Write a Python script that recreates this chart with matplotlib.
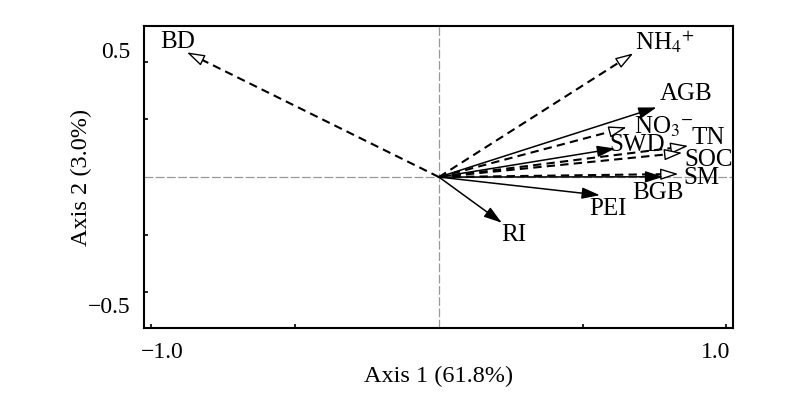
import numpy as np
import matplotlib
matplotlib.use("Agg")
import matplotlib.pyplot as plt

plt.rcParams['font.family'] = ['Liberation Serif', 'DejaVu Serif']
plt.rcParams['mathtext.fontset'] = 'stix'

# biplot arrow end points (axis 1, axis 2)
names = ['BD', 'NH$_4$$^{+}$', 'AGB', 'NO$_3$$^{-}$', 'SWD', 'TN', 'SOC', 'SM', 'BGB', 'PEI', 'RI']
ax1 = [-0.912, 0.703, 0.787, 0.679, 0.637, 0.902, 0.880, 0.866, 0.811, 0.582, 0.227]
ax2 = [0.489, 0.485, 0.273, 0.195, 0.112, 0.122, 0.095, 0.012, 0.001, -0.071, -0.179]
# dashed = soil variables (open heads), solid = plant variables (filled heads)
dashed = [True, True, False, True, False, True, True, True, False, False, False]
# label anchor points
lab_x = [-0.944, 0.817, 0.893, 0.814, 0.716, 0.973, 0.976, 0.948, 0.792, 0.611, 0.271]
lab_y = [0.529, 0.530, 0.325, 0.196, 0.125, 0.153, 0.067, -0.004, -0.063, -0.125, -0.227]

fig = plt.figure(figsize=(8, 4.04), dpi=100)
ax = fig.add_axes([0.18, 0.188, 0.736, 0.7475])
ax.set_xlim(-1.067, 1.063)
ax.set_ylim(-0.592, 0.592)

# reference lines through origin
ax.axhline(0, color='#999999', lw=0.9, ls=(0, (7, 2)), zorder=1)
ax.axvline(0, color='#999999', lw=0.9, ls=(0, (7, 2)), zorder=1)

for i in range(len(names)):
    x, y = ax1[i], ax2[i]
    if dashed[i]:
        ax.plot([0, x * 0.97], [0, y * 0.97], color='k', lw=1.5, ls=(0, (4, 2.5)), zorder=3)
        fc = 'white'
    else:
        ax.plot([0, x * 0.97], [0, y * 0.97], color='k', lw=1.1, zorder=3)
        fc = 'black'
    ax.annotate('', xy=(x, y), xytext=(x * 0.95, y * 0.95),
                arrowprops=dict(arrowstyle='-|>,head_length=1.1,head_width=0.35',
                                fc=fc, ec='k', lw=1.0, mutation_scale=10,
                                shrinkA=0, shrinkB=0), zorder=4)
    ax.text(lab_x[i], lab_y[i], names[i], fontsize=18, ha='center', va='center', zorder=5)

for s in ax.spines.values():
    s.set_linewidth(1.5)

ax.set_xticks([-1.0, 1.0])
ax.set_xticklabels(['\u22121.0', '1.0'])
ax.set_yticks([-0.5, 0.5])
ax.set_yticklabels(['\u22120.5', '0.5'])
ax.tick_params(axis='both', which='major', length=0, labelsize=17, pad=10)
ax.set_xticks([-1.04, -0.52, 0.52, 1.04], minor=True)
ax.set_yticks([-0.45, -0.227, 0.227, 0.45], minor=True)
ax.tick_params(axis='both', which='minor', direction='in', length=3, width=1.2)

ax.set_xlabel('Axis 1 (61.8%)', fontsize=17.5, labelpad=2)
ax.set_ylabel('Axis 2 (3.0%)', fontsize=17.5, labelpad=-3)

fig.savefig('out.png', dpi=100)
